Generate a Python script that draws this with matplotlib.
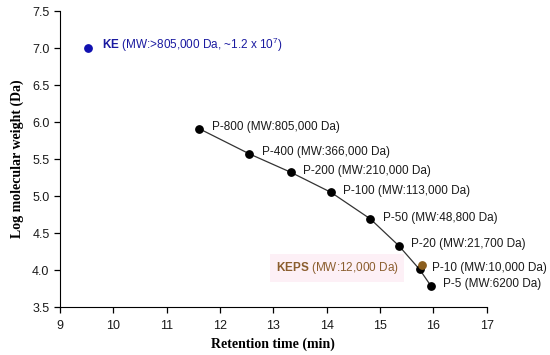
"""
Calibration curve: log MW vs retention time (pullulan standards, KE, KEPS).
"""
import matplotlib
matplotlib.use("Agg")
import matplotlib.pyplot as plt

# pullulan standards
std_names = ["P-800", "P-400", "P-200", "P-100", "P-50", "P-20", "P-10", "P-5"]
std_mw = ["805,000", "366,000", "210,000", "113,000", "48,800", "21,700", "10,000", "6200"]
std_rt = [11.61, 12.55, 13.33, 14.08, 14.82, 15.35, 15.74, 15.95]
std_logmw = [5.91, 5.57, 5.32, 5.05, 4.69, 4.33, 4.01, 3.79]

# samples
ke_rt, ke_logmw = 9.52, 7.0
keps_rt, keps_logmw = 15.79, 4.07

plt.rcParams["font.family"] = ["Liberation Sans", "DejaVu Sans"]
plt.rcParams["mathtext.fontset"] = "custom"
plt.rcParams["mathtext.rm"] = "Liberation Sans"
plt.rcParams["mathtext.bf"] = "Liberation Sans:bold"

fig = plt.figure(figsize=(5.5, 3.55), dpi=100)
ax = fig.add_axes([0.109, 0.135, 0.776, 0.834])

ax.plot(std_rt, std_logmw, color="#333333", lw=0.9, zorder=1)
ax.scatter(std_rt, std_logmw, s=28, color="black", zorder=3)
for name, mw, x, y in zip(std_names, std_mw, std_rt, std_logmw):
    ax.annotate(f"{name} (MW:{mw} Da)", (x, y), xytext=(9, 1),
                textcoords="offset points", fontsize=8.5, va="center",
                color="#1a1a1a")

# KE
ax.scatter([ke_rt], [ke_logmw], s=28, color="#1010b0", zorder=3)
ax.annotate(r"$\bf{KE}$ (MW:>805,000 Da, ~1.2 x 10$^7$)", (ke_rt, ke_logmw),
            xytext=(10, 2), textcoords="offset points", fontsize=8.5,
            va="center", color="#1a1aa0")

# KEPS
ax.scatter([keps_rt], [keps_logmw], s=28, color="#8b5e1e", zorder=4)
ax.annotate(r"$\bf{KEPS}$ (MW:12,000 Da)", (keps_rt, keps_logmw),
            xytext=(-17, -2), textcoords="offset points", fontsize=8.5,
            va="center", ha="right", color="#8b5e2e",
            bbox=dict(boxstyle="square,pad=0.5", fc="#fdf0f6", ec="none"))

ax.set_xlim(9, 17)
ax.set_ylim(3.5, 7.5)
ax.set_xticks(range(9, 18))
ax.set_yticks([3.5, 4.0, 4.5, 5.0, 5.5, 6.0, 6.5, 7.0, 7.5])
ax.set_yticklabels([f"{v:.1f}" for v in ax.get_yticks()])
ax.tick_params(direction="out", length=4, labelsize=9, width=0.9,
               labelcolor="#1a1a1a")
ax.tick_params(axis="x", pad=5)
for side in ["top", "right"]:
    ax.spines[side].set_visible(False)

ax.set_xlabel("Retention time (min)", family="Liberation Serif",
              fontweight="bold", fontsize=10, labelpad=4)
ax.set_ylabel("Log molecular weight (Da)", family="Liberation Serif",
              fontweight="bold", fontsize=10, labelpad=6)

fig.savefig("out.png", dpi=100)
